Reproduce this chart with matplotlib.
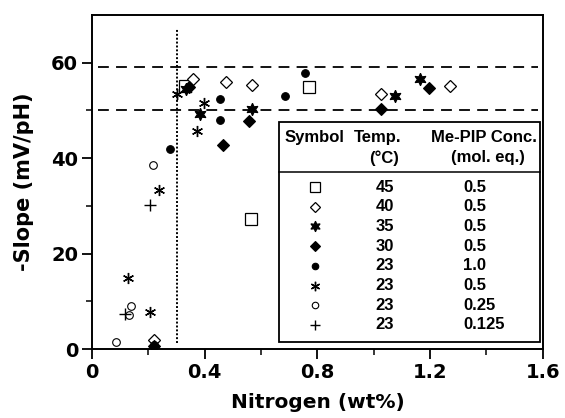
import matplotlib
matplotlib.use('Agg')
import matplotlib.pyplot as plt
from matplotlib.patches import Rectangle
import numpy as np

plt.rcParams['font.family'] = ['DejaVu Sans']
plt.rcParams['font.weight'] = 'bold'

# data: (nitrogen wt%, -slope mV/pH)
sq45_x = [0.33, 0.566, 0.77]
sq45_y = [55.2, 27.3, 54.9]
dia40_x = [0.219, 0.358, 0.476, 0.567, 1.027, 1.27]
dia40_y = [1.8, 56.5, 55.9, 55.4, 53.5, 55.1]
star35_x = [0.335, 0.385, 0.567, 1.074, 1.165]
star35_y = [54.4, 49.3, 50.4, 53.0, 56.5]
dia30_x = [0.219, 0.345, 0.466, 0.558, 1.027, 1.197]
dia30_y = [0.6, 54.9, 42.7, 47.7, 50.4, 54.7]
circ10_x = [0.219, 0.276, 0.456, 0.456, 0.685, 0.756]
circ10_y = [0.9, 42.0, 52.4, 47.9, 53.1, 57.8]
ast05_x = [0.128, 0.207, 0.237, 0.303, 0.374, 0.397]
ast05_y = [14.8, 7.7, 33.3, 53.5, 45.7, 51.6]
oc025_x = [0.087, 0.131, 0.137, 0.217]
oc025_y = [1.5, 7.2, 9.0, 38.5]
plus0125_x = [0.117, 0.207]
plus0125_y = [7.3, 30.2]

temps = ['45', '40', '35', '30', '23', '23', '23', '23']
concs = ['0.5', '0.5', '0.5', '0.5', '1.0', '0.5', '0.25', '0.125']

nernst_upper = 59.2
nernst_lower = 50.0
n_threshold = 0.3

# marker styles
star6 = (6, 1, 0)
aster6 = (6, 2, 0)
styles = [
	dict(marker='s', ms=8, mfc='white', mec='black', mew=0.9),
	dict(marker='D', ms=6, mfc='white', mec='black', mew=0.9),
	dict(marker=star6, ms=9, mfc='black', mec='black', mew=0.8),
	dict(marker='D', ms=6.5, mfc='black', mec='black', mew=0.8),
	dict(marker='o', ms=5.5, mfc='black', mec='black', mew=0.8),
	dict(marker=aster6, ms=8, mfc='black', mec='black', mew=1.0),
	dict(marker='o', ms=5.5, mfc='white', mec='black', mew=0.8),
	dict(marker='+', ms=8, mfc='black', mec='black', mew=1.0),
]
series = [(sq45_x, sq45_y), (dia40_x, dia40_y), (star35_x, star35_y), (dia30_x, dia30_y),
		  (circ10_x, circ10_y), (ast05_x, ast05_y), (oc025_x, oc025_y), (plus0125_x, plus0125_y)]

fig = plt.figure(figsize=(5.65, 4.18), dpi=100)
ax = fig.add_axes([0.1628, 0.165, 0.798, 0.799])

ax.axhline(nernst_upper, xmin=0.013, xmax=0.99, color='black', lw=1.3, dashes=(6, 4))
ax.axhline(nernst_lower, xmin=0.013, xmax=0.99, color='black', lw=1.3, dashes=(6, 4))
ax.plot([n_threshold, n_threshold], [1.2, 67], color='black', lw=1.4, linestyle=(0, (1, 1)))

for (xs, ys), st in zip(series, styles):
	ax.plot(xs, ys, linestyle='none', zorder=3, **st)

ax.set_xlim(0, 1.6)
ax.set_ylim(0, 70)
ax.set_xticks(np.arange(0, 1.61, 0.4))
ax.set_xticklabels(['0', '0.4', '0.8', '1.2', '1.6'])
ax.set_xticks(np.arange(0.2, 1.6, 0.4), minor=True)
ax.set_yticks([0, 20, 40, 60])
ax.set_yticks([10, 30, 50], minor=True)
ax.tick_params(which='major', direction='out', length=7, width=1.3, labelsize=14, pad=3)
ax.tick_params(which='minor', direction='out', length=4, width=1.1)
for s in ax.spines.values():
	s.set_linewidth(1.4)
ax.set_xlabel('Nitrogen (wt%)', fontsize=14.5, fontweight='bold', labelpad=8)
ax.set_ylabel('-Slope (mV/pH)', fontsize=15, fontweight='bold', labelpad=12)

# table-style legend box
box = Rectangle((0.415, 0.021), 0.578, 0.659, transform=ax.transAxes, facecolor='white',
				edgecolor='black', lw=1.3, zorder=4)
ax.add_patch(box)
ax.plot([0.415, 0.993], [0.53, 0.53], transform=ax.transAxes, color='black', lw=1.1, zorder=5)
fs = 12
lf = dict(transform=ax.transAxes, va='center', fontsize=fs, zorder=6, family='Liberation Sans', fontweight='bold')
ax.text(0.494, 0.632, 'Symbol', ha='center', **lf)
ax.text(0.634, 0.632, 'Temp.', ha='center', **lf)
ax.text(0.647, 0.572, '(\u00b0C)', ha='center', **lf)
ax.text(0.869, 0.632, 'Me-PIP Conc.', ha='center', **lf)
ax.text(0.878, 0.572, '(mol. eq.)', ha='center', **lf)
for i, (t, c) in enumerate(zip(temps, concs)):
	yy = 0.485 - i * 0.059
	st = dict(styles[i])
	st['ms'] = st['ms'] * 0.85
	ax.plot([0.494], [yy], transform=ax.transAxes, linestyle='none', zorder=6, clip_on=False, **st)
	ax.text(0.65, yy, t, ha='center', **lf)
	ax.text(0.823, yy, c, ha='left', **lf)

fig.savefig('out.png', dpi=100)
